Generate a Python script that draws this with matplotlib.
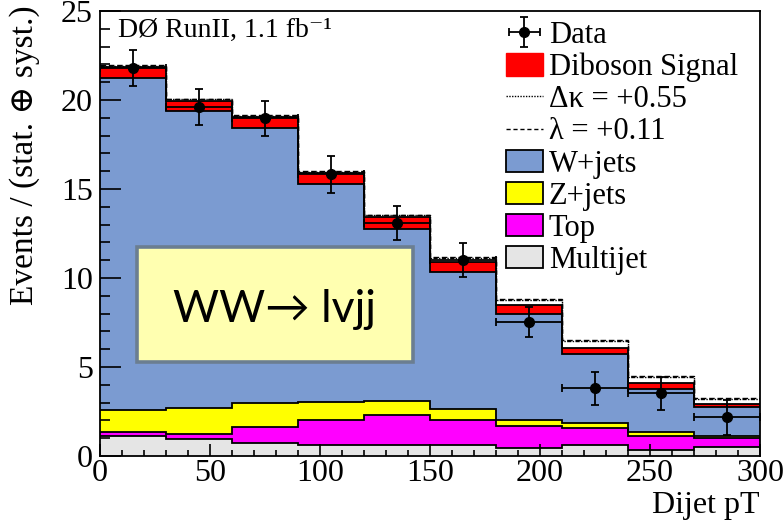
import numpy as np
import matplotlib.pyplot as plt
from matplotlib.patches import Patch, Rectangle
from matplotlib.lines import Line2D
from matplotlib.ticker import MultipleLocator

# bins in dijet pT
edges = np.arange(0, 301, 30)

# stacked components (events per bin)
multijet = [1.10, 0.95, 0.75, 0.62, 0.62, 0.60, 0.43, 0.60, 0.35, 0.50]
top = [0.27, 0.29, 0.90, 1.40, 1.70, 1.45, 1.27, 0.96, 0.79, 0.52]
zjets = [1.21, 1.44, 1.33, 1.03, 0.78, 0.58, 0.34, 0.28, 0.19, 0.08]
wjets = [18.64, 16.72, 15.42, 12.25, 9.64, 7.72, 5.94, 3.89, 2.42, 1.66]
signal = [0.62, 0.56, 0.66, 0.62, 0.70, 0.57, 0.50, 0.32, 0.33, 0.18]

# anomalous coupling predictions (total)
dkappa_total = [21.92, 20.05, 19.12, 15.98, 13.52, 11.10, 8.75, 6.48, 4.45, 3.20]
lambda_total = [21.95, 20.08, 19.14, 16.00, 13.55, 11.16, 8.80, 6.52, 4.49, 3.24]

# data
data = [21.80, 19.62, 18.97, 15.83, 13.10, 11.00, 7.54, 3.80, 3.52, 2.17]
data_err = [1.02, 1.00, 1.00, 1.05, 0.95, 0.97, 0.85, 0.93, 0.94, 1.00]

plt.rcParams['font.family'] = ['Liberation Serif', 'DejaVu Serif']
plt.rcParams['mathtext.fontset'] = 'stix'

fig = plt.figure(figsize=(7.84, 5.31), dpi=100)
ax = fig.add_axes([0.1276, 0.1412, 0.8418, 0.8381])

c1 = np.array(multijet)
c2 = c1 + np.array(top)
c3 = c2 + np.array(zjets)
c4 = c3 + np.array(wjets)
c5 = c4 + np.array(signal)

layers = [(c5, '#ff0000'), (c4, '#7b9bd1'), (c3, '#ffff00'),
          (c2, '#ff00ff'), (c1, '#e5e5e5')]
for vals, col in layers:
    ax.stairs(vals, edges, baseline=0, fill=True, color=col, lw=0)
for vals, _ in layers:
    ax.stairs(vals, edges, baseline=None, color='black', lw=1.3)

ax.stairs(dkappa_total, edges, baseline=None, color='black', lw=1.0,
          linestyle=(0, (3, 1, 1, 1)))
ax.stairs(lambda_total, edges, baseline=None, color='black', lw=1.0,
          linestyle=(0, (4, 2)))

centers = 0.5 * (edges[:-1] + edges[1:])
eb = ax.errorbar(centers, data, yerr=data_err, xerr=15, fmt='o', color='black',
                 ms=7, elinewidth=1.3, capsize=3, capthick=1.3)

ax.set_xlim(0, 300)
ax.set_ylim(0, 25)
ax.xaxis.set_major_locator(MultipleLocator(50))
ax.xaxis.set_minor_locator(MultipleLocator(10))
ax.yaxis.set_major_locator(MultipleLocator(5))
ax.yaxis.set_minor_locator(MultipleLocator(1))
ax.tick_params(direction='in', which='both', top=False, right=False,
               labelsize=23, width=1.2)
ax.tick_params(axis='y', which='major', length=15, pad=5)
ax.tick_params(axis='y', which='minor', length=7.5)
ax.tick_params(axis='x', which='major', length=9, pad=2)
ax.tick_params(axis='x', which='minor', length=4.5)
for s in ax.spines.values():
    s.set_linewidth(1.3)
    s.set_zorder(5)

ax.text(0.027, 0.985, 'DØ RunII, 1.1 fb⁻¹', transform=ax.transAxes,
        fontsize=20, va='top', ha='left')

# channel box
ax.add_patch(Rectangle((0.056, 0.211), 0.418, 0.259, transform=ax.transAxes,
                       facecolor='#ffffb0', edgecolor='#6b7e91', lw=2.6, zorder=6))
ax.text(0.265, 0.33, 'WW→ lvjj', transform=ax.transAxes, fontsize=32,
        family=['Lato', 'DejaVu Sans'], ha='center', va='center', zorder=7)

handles = [eb,
           Patch(facecolor='#ff0000', edgecolor='#ff0000'),
           Line2D([], [], color='black', lw=1.0, linestyle=(0, (1, 1))),
           Line2D([], [], color='black', lw=1.0, linestyle=(0, (3, 2))),
           Patch(facecolor='#7b9bd1', edgecolor='black', lw=1.3),
           Patch(facecolor='#ffff00', edgecolor='black', lw=1.3),
           Patch(facecolor='#ff00ff', edgecolor='black', lw=1.3),
           Patch(facecolor='#e5e5e5', edgecolor='black', lw=1.3)]
labels = ['Data', 'Diboson Signal', 'Δκ = +0.55', 'λ = +0.11',
          'W+jets', 'Z+jets', 'Top', 'Multijet']
leg = ax.legend(handles, labels, loc='upper left', bbox_to_anchor=(0.615, 0.978),
                frameon=False, fontsize=22, handlelength=1.2, handleheight=0.75,
                handletextpad=0.2, labelspacing=0.1, borderaxespad=0.0,
                borderpad=0.0)
leg.set_zorder(8)

fig.text(0.032, 0.99, 'Events / (stat. ⊕ syst.)', rotation=90, fontsize=24,
         ha='center', va='top')
fig.text(0.969, 0.02, 'Dijet pT', fontsize=23, ha='right', va='bottom')

fig.savefig('out.png', dpi=100)
